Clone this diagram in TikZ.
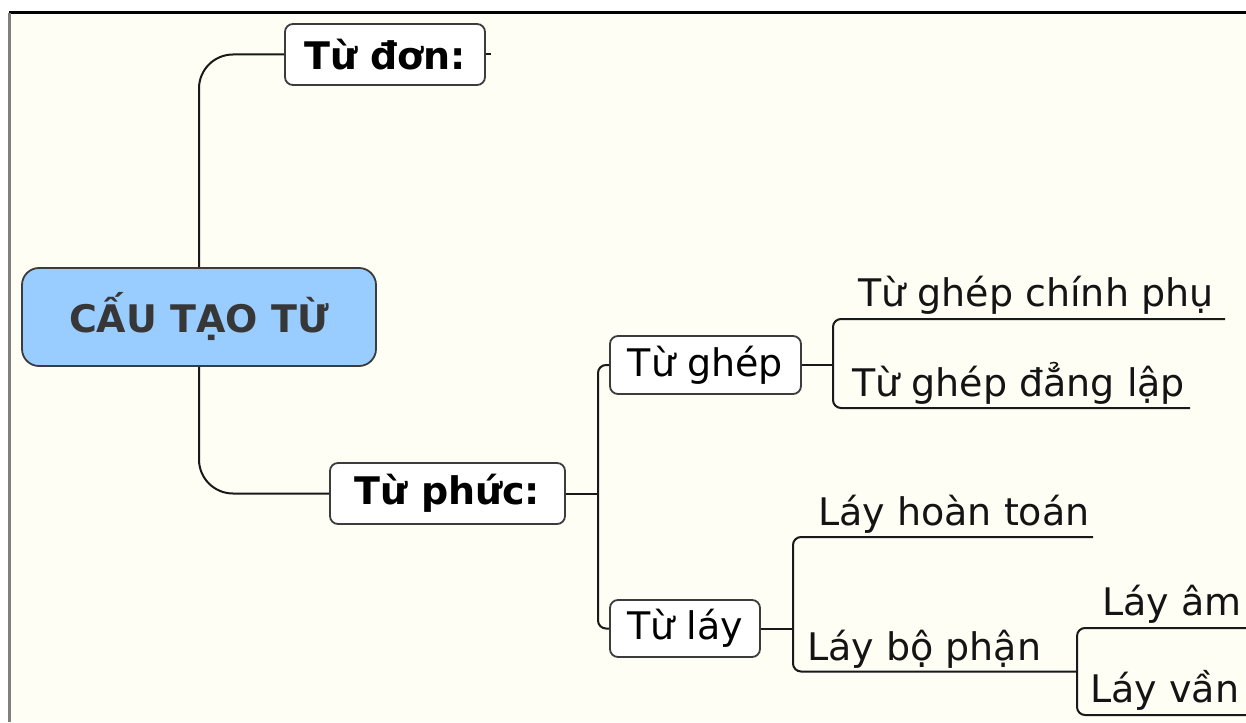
\documentclass[tikz,border=0pt]{standalone}
\usepackage{fontspec}
\setmainfont{DejaVu Sans}
\begin{document}
\begin{tikzpicture}[x=1pt,y=-1pt,
  conn/.style={line width=2pt, draw={rgb,255:red,25;green,25;blue,25}},
  boxnode/.style={draw={rgb,255:red,60;green,60;blue,60}, line width=1.8pt, fill=white,
    rounded corners=8pt, inner sep=0pt, font=\fontsize{38}{44}\selectfont, text=black},
  leaf/.style={inner sep=0pt, anchor=base west, font=\fontsize{38}{44}\selectfont,
    text={rgb,255:red,20;green,20;blue,20}}]
\definecolor{cream}{RGB}{255,254,245}
\definecolor{rootblue}{RGB}{153,204,255}
\useasboundingbox (0,0) rectangle (1246,722);
\fill[white] (0,0) rectangle (1246,722);
\fill[cream] (9,13) rectangle (1246,722);
\draw[line width=3pt, black] (9,13) -- (1246,13);
\draw[line width=3pt, gray] (9,13) -- (9,722);

% nodes
\node[boxnode, minimum width=354pt, minimum height=98pt, fill=rootblue,
      rounded corners=17pt, draw={rgb,255:red,60;green,60;blue,60},
      text={rgb,255:red,55;green,55;blue,55}, font=\fontsize{38}{44}\selectfont\bfseries]
      (root) at (199,317) {CẤU TẠO TỪ};
\node[boxnode, minimum width=200pt, minimum height=61pt, font=\fontsize{38}{44}\selectfont\bfseries]
      (don) at (385,54.5) {Từ đơn:};
\node[boxnode, minimum width=235pt, minimum height=61pt, font=\fontsize{38}{44}\selectfont\bfseries]
      (phuc) at (447.5,493.5) {Từ phức:};
\node[boxnode, minimum width=191pt, minimum height=58pt] (ghep) at (705.5,365) {Từ ghép};
\node[boxnode, minimum width=150pt, minimum height=57pt] (lay) at (685,628.5) {Từ láy};

\node[leaf] (cp) at (858,306) {Từ ghép chính phụ};
\node[leaf] (dl) at (852,396) {Từ ghép đẳng lập};
\node[leaf] (ht) at (818,525) {Láy hoàn toán};
\node[leaf] (bp) at (807,660) {Láy bộ phận};
\node[leaf] (am) at (1102,615) {Láy âm};
\node[leaf] (van) at (1090,702) {Láy vần};

% junction coordinates and line ends
\coordinate (pj) at (598,493.5);
\coordinate (gj) at (833,365);
\coordinate (lj) at (793,628.5);
\coordinate (cpend) at (1225,319);
\coordinate (dlend) at (1190,408);
\coordinate (htend) at (1093,537);
\coordinate (bpend) at (1077,671.5);
\coordinate (amend) at (1246,628);
\coordinate (vanend) at (1246,715);
\coordinate (dontick) at (491,54.5);

% connectors
\draw[conn, rounded corners=34pt] (root.north) |- (don.west);
\draw[conn, rounded corners=34pt] (root.south) |- (phuc.west);
\draw[conn] (don.east) -- (dontick);
\draw[conn] (phuc.east) -- (pj);
\draw[conn, rounded corners=8pt] (ghep.west) -| (pj) |- (lay.west);
\draw[conn] (ghep.east) -- (gj);
\draw[conn, rounded corners=8pt] (cpend) -| (gj) |- (dlend);
\draw[conn] (lay.east) -- (lj);
\draw[conn, rounded corners=8pt] (htend) -| (lj) |- (bpend);
\draw[conn, rounded corners=8pt] (amend) -| (bpend) |- (vanend);
\end{tikzpicture}
\end{document}
